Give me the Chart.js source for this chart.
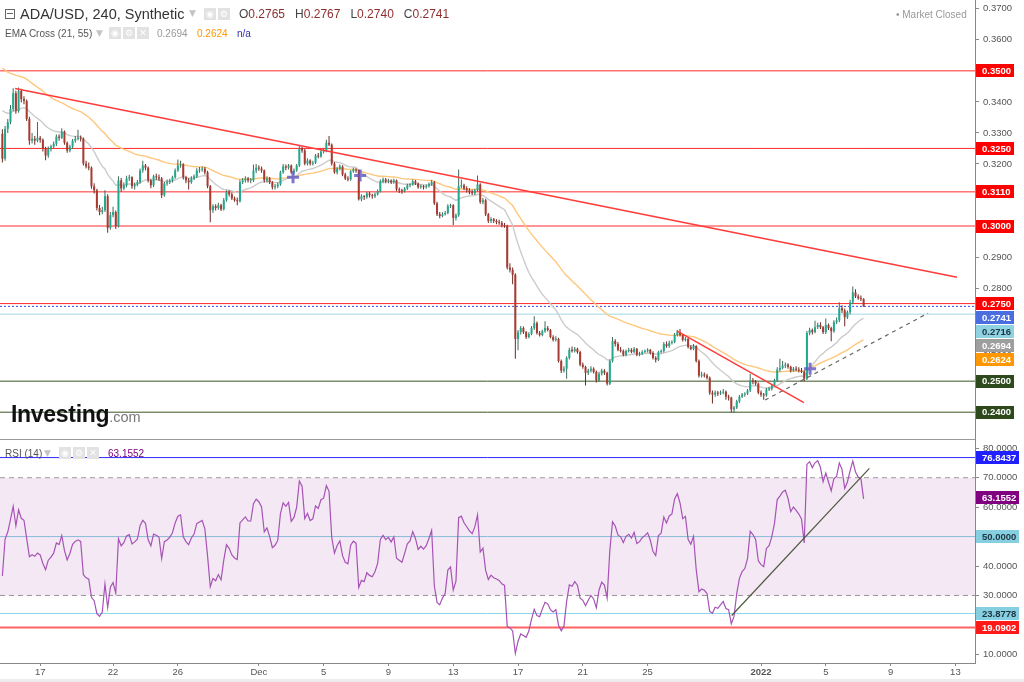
<!DOCTYPE html>
<html>
<head>
<meta charset="utf-8">
<title>ADA/USD, 240, Synthetic</title>
<script src="https://cdn.jsdelivr.net/npm/chart.js@4.4.1/dist/chart.umd.min.js"></script>
<style>
  body { margin: 0; background: #fff; font-family: "Liberation Sans", Arial, sans-serif; }
  #page { position: relative; width: 1024px; height: 682px; overflow: hidden; background: #fff; }
  canvas { position: absolute; left: 0; }
  #priceCanvas { top: 0; }
  #rsiCanvas { top: 440px; }
  .abs { position: absolute; white-space: nowrap; }
  .ico { position: absolute; width: 12px; height: 12px; background: #e2e2e2; color: #fff; font-size: 9px; line-height: 12px; text-align: center; font-family: "DejaVu Sans", sans-serif; }
  .arrow { position: absolute; color: #c4c4c4; font-size: 9px; font-family: "DejaVu Sans", sans-serif; }
  .lbl { color: #444; }
  .num { color: #8e2f2f; margin-right: 10px; }
</style>
</head>
<body>
<div id="page">
  <canvas id="priceCanvas" width="1024" height="439"></canvas>
  <canvas id="rsiCanvas" width="1024" height="242"></canvas>

  <div class="abs" style="left:0;top:439px;width:975px;height:1px;background:#9a9a9a"></div>
  <div class="abs" style="left:975px;top:437px;width:1px;height:6px;background:#888"></div>
  <div class="abs" style="left:0;top:679px;width:1024px;height:3px;background:#ececec"></div>

  <div class="abs" style="left:5px;top:9px;width:8px;height:8px;border:1px solid #666"></div>
  <div class="abs" style="left:7px;top:13px;width:6px;height:1px;background:#666"></div>
  <div class="abs" style="left:20px;top:5px;font-size:14.5px;line-height:18px;color:#333">ADA/USD, 240, Synthetic</div>
  <div class="arrow" style="left:189px;top:8px">&#9660;</div>
  <div class="ico" style="left:204px;top:8px">&#9673;</div>
  <div class="ico" style="left:218px;top:8px">&#9881;</div>
  <div class="abs" id="ohlcText" style="left:239px;top:7px;font-size:12px;line-height:15px"></div>

  <div class="abs" style="left:5px;top:27px;font-size:10px;line-height:13px;color:#555">EMA Cross (21, 55)</div>
  <div class="arrow" style="left:96px;top:28px">&#9660;</div>
  <div class="ico" style="left:109px;top:27px">&#9673;</div>
  <div class="ico" style="left:123px;top:27px">&#9881;</div>
  <div class="ico" style="left:137px;top:27px">&#10005;</div>
  <div class="abs" style="left:157px;top:27px;font-size:10px;line-height:13px;color:#999">0.2694</div>
  <div class="abs" style="left:197px;top:27px;font-size:10px;line-height:13px;color:#ff9800">0.2624</div>
  <div class="abs" style="left:237px;top:27px;font-size:10px;line-height:13px;color:#3030b0">n/a</div>

  <div class="abs" style="left:896px;top:8px;font-size:10px;line-height:13px;color:#999">&#8226; Market Closed</div>

  <div class="abs" style="left:11px;top:401px;line-height:26px"><span style="font-size:23px;font-weight:bold;color:#111;letter-spacing:-0.3px">Investing</span><span style="font-size:14.5px;color:#777">.com</span></div>

  <div class="abs" style="left:5px;top:447px;font-size:10px;line-height:13px;color:#555">RSI (14)</div>
  <div class="arrow" style="left:44px;top:448px">&#9660;</div>
  <div class="ico" style="left:59px;top:447px">&#9673;</div>
  <div class="ico" style="left:73px;top:447px">&#9881;</div>
  <div class="ico" style="left:87px;top:447px">&#10005;</div>
  <div class="abs" style="left:108px;top:447px;font-size:10px;line-height:13px;color:#800080">63.1552</div>
</div>

<script>
const fontFamily = '"Liberation Sans", Arial, sans-serif';

// time axis in days since Nov 1 2021; 240-minute candles
const startDay = 14 + 4 / 24;   // Nov 15 04:00
const stepDay = 4 / 24;
const xMin = 14.02;
const xMax = 74.21;
const dayTicks = [16.5, 21, 25, 30, 34, 38, 42, 46, 50, 54, 61, 65, 69, 73];
const dayLabels = ['17', '22', '26', 'Dec', '5', '9', '13', '17', '21', '25', '2022', '5', '9', '13'];

// [open, high, low, close], one line per day
const ohlc = [
  [.3297,.3312,.3205,.3217],[.3217,.3322,.3210,.3313],[.3313,.3345,.3300,.3335],[.3335,.3390,.3328,.3377],[.3377,.3444,.3370,.3428],[.3428,.3436,.3362,.3371],
  [.3371,.3446,.3365,.3435],[.3435,.3442,.3398,.3409],[.3409,.3418,.3392,.3403],[.3403,.3408,.3338,.3345],[.3345,.3352,.3262,.3275],[.3275,.3300,.3266,.3281],
  [.3281,.3290,.3262,.3275],[.3275,.3335,.3270,.3284],[.3284,.3290,.3268,.3278],[.3278,.3282,.3240,.3249],[.3249,.3255,.3212,.3227],[.3227,.3256,.3220,.3249],
  [.3249,.3262,.3240,.3256],[.3256,.3272,.3250,.3265],[.3265,.3295,.3258,.3288],[.3288,.3296,.3275,.3284],[.3284,.3315,.3280,.3304],[.3304,.3308,.3262,.3268],
  [.3268,.3272,.3236,.3243],[.3243,.3262,.3238,.3256],[.3256,.3280,.3250,.3275],[.3275,.3290,.3268,.3281],[.3281,.3310,.3276,.3284],[.3284,.3292,.3272,.3281],
  [.3281,.3285,.3195,.3201],[.3201,.3210,.3185,.3192],[.3192,.3205,.3180,.3188],[.3188,.3192,.3120,.3128],[.3128,.3138,.3105,.3115],[.3115,.3120,.3050,.3058],
  [.3058,.3068,.3035,.3045],[.3045,.3062,.3038,.3051],[.3051,.3115,.3045,.3096],[.3096,.3102,.2978,.2994],[.2994,.3045,.2988,.3035],[.3035,.3062,.3028,.3045],
  [.3045,.3050,.2990,.3000],[.3000,.3160,.2995,.3147],[.3147,.3155,.3110,.3121],[.3121,.3140,.3115,.3131],[.3131,.3162,.3125,.3153],[.3153,.3165,.3145,.3157],
  [.3157,.3160,.3120,.3128],[.3128,.3140,.3118,.3134],[.3134,.3148,.3128,.3141],[.3141,.3185,.3136,.3179],[.3179,.3210,.3172,.3195],[.3195,.3200,.3180,.3188],
  [.3188,.3192,.3140,.3147],[.3147,.3152,.3122,.3131],[.3131,.3165,.3126,.3160],[.3160,.3168,.3148,.3157],[.3157,.3166,.3145,.3153],[.3153,.3158,.3090,.3099],
  [.3099,.3142,.3094,.3137],[.3137,.3150,.3130,.3141],[.3141,.3152,.3135,.3147],[.3147,.3162,.3140,.3157],[.3157,.3185,.3152,.3179],[.3179,.3214,.3175,.3195],
  [.3195,.3210,.3188,.3198],[.3198,.3202,.3150,.3157],[.3157,.3162,.3138,.3147],[.3147,.3155,.3118,.3141],[.3141,.3160,.3136,.3153],[.3153,.3166,.3148,.3160],
  [.3160,.3186,.3155,.3179],[.3179,.3190,.3172,.3182],[.3182,.3192,.3175,.3185],[.3185,.3190,.3166,.3173],[.3173,.3178,.3122,.3128],[.3128,.3132,.3012,.3051],
  [.3051,.3070,.3042,.3064],[.3064,.3070,.3050,.3058],[.3058,.3075,.3052,.3067],[.3067,.3072,.3048,.3054],[.3054,.3090,.3050,.3083],[.3083,.3115,.3078,.3109],
  [.3109,.3115,.3095,.3102],[.3102,.3108,.3084,.3089],[.3089,.3095,.3078,.3083],[.3083,.3092,.3067,.3080],[.3080,.3150,.3076,.3141],[.3141,.3155,.3135,.3147],
  [.3147,.3160,.3140,.3153],[.3153,.3158,.3140,.3147],[.3147,.3155,.3138,.3147],[.3147,.3198,.3142,.3179],[.3179,.3200,.3170,.3188],[.3188,.3196,.3178,.3185],
  [.3185,.3192,.3172,.3179],[.3179,.3182,.3140,.3147],[.3147,.3160,.3140,.3153],[.3153,.3158,.3135,.3141],[.3141,.3145,.3118,.3125],[.3125,.3135,.3118,.3128],
  [.3128,.3140,.3122,.3134],[.3134,.3178,.3130,.3173],[.3173,.3200,.3168,.3192],[.3192,.3198,.3180,.3188],[.3188,.3200,.3182,.3195],[.3195,.3198,.3168,.3173],
  [.3173,.3185,.3166,.3179],[.3179,.3200,.3175,.3195],[.3195,.3260,.3190,.3249],[.3249,.3256,.3236,.3243],[.3243,.3248,.3196,.3201],[.3201,.3218,.3195,.3211],
  [.3211,.3215,.3195,.3201],[.3201,.3210,.3195,.3204],[.3204,.3232,.3200,.3227],[.3227,.3235,.3218,.3224],[.3224,.3246,.3220,.3240],[.3240,.3250,.3234,.3243],
  [.3243,.3278,.3238,.3268],[.3268,.3290,.3258,.3262],[.3262,.3266,.3195,.3201],[.3201,.3206,.3168,.3173],[.3173,.3190,.3166,.3185],[.3185,.3198,.3180,.3192],
  [.3192,.3196,.3160,.3166],[.3166,.3172,.3148,.3153],[.3153,.3160,.3144,.3150],[.3150,.3180,.3146,.3176],[.3176,.3188,.3172,.3182],[.3182,.3186,.3172,.3179],
  [.3179,.3182,.3082,.3086],[.3086,.3102,.3080,.3096],[.3096,.3100,.3084,.3093],[.3093,.3110,.3088,.3105],[.3105,.3110,.3092,.3099],[.3099,.3104,.3088,.3096],
  [.3096,.3108,.3090,.3102],[.3102,.3118,.3098,.3112],[.3112,.3150,.3108,.3144],[.3144,.3156,.3138,.3150],[.3150,.3155,.3138,.3144],[.3144,.3152,.3138,.3147],
  [.3147,.3150,.3135,.3141],[.3141,.3152,.3136,.3147],[.3147,.3150,.3112,.3118],[.3118,.3124,.3106,.3115],[.3115,.3120,.3104,.3112],[.3112,.3126,.3108,.3121],
  [.3121,.3136,.3116,.3131],[.3131,.3138,.3125,.3134],[.3134,.3150,.3130,.3144],[.3144,.3148,.3132,.3137],[.3137,.3140,.3120,.3125],[.3125,.3134,.3120,.3128],
  [.3128,.3132,.3118,.3125],[.3125,.3134,.3120,.3128],[.3128,.3140,.3124,.3134],[.3134,.3148,.3130,.3141],[.3141,.3145,.3068,.3073],[.3073,.3078,.3032,.3038],
  [.3038,.3045,.3025,.3032],[.3032,.3044,.3028,.3038],[.3038,.3048,.3034,.3042],[.3042,.3070,.3038,.3064],[.3064,.3072,.3058,.3067],[.3067,.3070,.3003,.3026],
  [.3026,.3040,.3018,.3035],[.3035,.3182,.3030,.3128],[.3128,.3150,.3122,.3131],[.3131,.3136,.3115,.3121],[.3121,.3128,.3108,.3115],[.3115,.3122,.3102,.3109],
  [.3109,.3118,.3100,.3105],[.3105,.3120,.3100,.3115],[.3115,.3163,.3110,.3134],[.3134,.3138,.3072,.3077],[.3077,.3090,.3070,.3083],[.3083,.3088,.3032,.3038],
  [.3038,.3042,.3010,.3016],[.3016,.3028,.3010,.3022],[.3022,.3026,.3010,.3016],[.3016,.3022,.3006,.3013],[.3013,.3020,.3004,.3010],[.3010,.3016,.2996,.3003],
  [.3003,.3010,.2994,.3000],[.3000,.3004,.2860,.2866],[.2866,.2880,.2850,.2859],[.2859,.2866,.2812,.2843],[.2843,.2848,.2572,.2636],[.2636,.2665,.2600,.2658],
  [.2658,.2678,.2650,.2671],[.2671,.2676,.2652,.2658],[.2658,.2662,.2636,.2642],[.2642,.2658,.2638,.2652],[.2652,.2678,.2648,.2671],[.2671,.2709,.2665,.2687],
  [.2687,.2692,.2650,.2655],[.2655,.2662,.2644,.2649],[.2649,.2666,.2645,.2661],[.2661,.2693,.2656,.2671],[.2671,.2678,.2660,.2665],[.2665,.2668,.2638,.2642],
  [.2642,.2648,.2628,.2633],[.2633,.2645,.2628,.2636],[.2636,.2640,.2560,.2565],[.2565,.2570,.2526,.2534],[.2534,.2548,.2528,.2540],[.2540,.2580,.2508,.2575],
  [.2575,.2608,.2570,.2601],[.2601,.2612,.2592,.2597],[.2597,.2610,.2592,.2604],[.2604,.2608,.2588,.2594],[.2594,.2598,.2548,.2553],[.2553,.2560,.2540,.2546],
  [.2546,.2550,.2486,.2527],[.2527,.2540,.2520,.2534],[.2534,.2548,.2528,.2540],[.2540,.2545,.2525,.2530],[.2530,.2534,.2496,.2502],[.2502,.2530,.2498,.2524],
  [.2524,.2540,.2518,.2534],[.2534,.2538,.2520,.2527],[.2527,.2530,.2486,.2492],[.2492,.2570,.2488,.2565],[.2565,.2642,.2560,.2629],[.2629,.2635,.2612,.2620],
  [.2620,.2626,.2596,.2601],[.2601,.2610,.2592,.2597],[.2597,.2602,.2580,.2585],[.2585,.2602,.2580,.2597],[.2597,.2608,.2592,.2601],[.2601,.2606,.2590,.2594],
  [.2594,.2610,.2590,.2604],[.2604,.2607,.2580,.2585],[.2585,.2595,.2580,.2588],[.2588,.2600,.2584,.2594],[.2594,.2602,.2590,.2597],[.2597,.2606,.2592,.2601],
  [.2601,.2604,.2586,.2591],[.2591,.2596,.2570,.2575],[.2575,.2580,.2560,.2569],[.2569,.2598,.2565,.2594],[.2594,.2602,.2590,.2597],[.2597,.2626,.2592,.2620],
  [.2620,.2628,.2608,.2613],[.2613,.2630,.2608,.2623],[.2623,.2632,.2618,.2626],[.2626,.2655,.2622,.2649],[.2649,.2665,.2644,.2658],[.2658,.2668,.2644,.2649],
  [.2649,.2652,.2628,.2633],[.2633,.2642,.2628,.2636],[.2636,.2640,.2605,.2610],[.2610,.2616,.2600,.2604],[.2604,.2620,.2600,.2613],[.2613,.2616,.2560,.2565],
  [.2565,.2570,.2512,.2518],[.2518,.2530,.2512,.2521],[.2521,.2528,.2512,.2518],[.2518,.2524,.2505,.2511],[.2511,.2515,.2456,.2463],[.2463,.2470,.2428,.2457],
  [.2457,.2470,.2450,.2463],[.2463,.2468,.2452,.2460],[.2460,.2470,.2455,.2463],[.2463,.2475,.2458,.2466],[.2466,.2470,.2440,.2450],[.2450,.2456,.2438,.2447],
  [.2447,.2450,.2400,.2409],[.2409,.2420,.2398,.2415],[.2415,.2440,.2410,.2435],[.2435,.2455,.2430,.2450],[.2450,.2462,.2446,.2457],[.2457,.2464,.2450,.2460],
  [.2460,.2475,.2455,.2470],[.2470,.2524,.2465,.2502],[.2502,.2510,.2490,.2498],[.2498,.2504,.2486,.2492],[.2492,.2496,.2458,.2463],[.2463,.2470,.2450,.2457],
  [.2457,.2462,.2440,.2454],[.2454,.2478,.2450,.2473],[.2473,.2482,.2468,.2476],[.2476,.2490,.2470,.2486],[.2486,.2508,.2482,.2502],[.2502,.2545,.2498,.2537],
  [.2537,.2572,.2530,.2543],[.2543,.2565,.2538,.2550],[.2550,.2560,.2542,.2553],[.2553,.2558,.2540,.2546],[.2546,.2550,.2528,.2534],[.2534,.2546,.2530,.2540],
  [.2540,.2548,.2532,.2537],[.2537,.2545,.2528,.2534],[.2534,.2542,.2526,.2530],[.2530,.2535,.2500,.2508],[.2508,.2662,.2504,.2655],[.2655,.2672,.2648,.2665],
  [.2665,.2670,.2650,.2658],[.2658,.2695,.2654,.2674],[.2674,.2688,.2668,.2681],[.2681,.2690,.2668,.2674],[.2674,.2678,.2652,.2658],[.2658,.2702,.2652,.2681],
  [.2681,.2686,.2665,.2671],[.2671,.2675,.2629,.2661],[.2661,.2696,.2656,.2690],[.2690,.2705,.2684,.2696],[.2696,.2754,.2690,.2735],[.2735,.2745,.2720,.2728],
  [.2728,.2734,.2677,.2706],[.2706,.2728,.2700,.2722],[.2722,.2762,.2716,.2754],[.2754,.2805,.2748,.2786],[.2786,.2796,.2768,.2773],[.2773,.2780,.2762,.2767],
  [.2767,.2776,.2758,.2765],[.2765,.2767,.2740,.2741]
];

// EMA / RSI state just before the first visible candle
const ema21Start = 0.3387;
const ema55Start = 0.3520;
const rsiStartGain = 0.0011;
const rsiStartLoss = 0.0019;

const priceMin = 0.23136;
const priceMax = 0.37283;
const priceTicks = [0.24, 0.25, 0.26, 0.27, 0.28, 0.29, 0.30, 0.31, 0.32, 0.33, 0.34, 0.35, 0.36, 0.37];
const redLevels = [0.3500, 0.3250, 0.3110, 0.3000, 0.2750];
const supportLevels = [0.2500, 0.2400];
const cyanLevel = 0.2716;
const emaLast = [0.2694, 0.2624];
const mainTrend = [[14.95, 0.3443], [73.1, 0.2835]];
const shortTrend = [[55.8, 0.2662], [63.65, 0.2431]];
const dashTrend = [[61.25, 0.2439], [71.31, 0.2719]];
const emaCrosses = [[32.11, 0.3157], [36.25, 0.3163], [64.03, 0.2540]];

const rsiMin = 7.05;
const rsiMax = 82.14;
const rsiTicks = [10, 20, 30, 40, 50, 60, 70, 80];
const rsiBand = [30, 70];
const rsiMid = 50;
const rsiHigh = 76.8437;
const rsiLowA = 23.8778;
const rsiLowB = 19.0902;
const rsiLast = 63.1552;
const rsiTrend = [[59.19, 23.2], [67.69, 73.2]];

// ---------- derived series ----------
const xs = ohlc.map((_, i) => startDay + i * stepDay);
const closes = ohlc.map(r => r[3]);

function ema(values, period, start) {
  const k = 2 / (period + 1);
  let e = start;
  return values.map(v => (e = e + k * (v - e)));
}

function rsi(values, period, g0, l0) {
  let g = g0, l = l0, prev = null;
  return values.map(v => {
    if (prev !== null) {
      const ch = v - prev;
      g = (g * (period - 1) + Math.max(ch, 0)) / period;
      l = (l * (period - 1) + Math.max(-ch, 0)) / period;
    }
    prev = v;
    return 100 - 100 / (1 + g / l);
  });
}

const ema21 = ema(closes, 21, ema21Start);
const ema55 = ema(closes, 55, ema55Start);
const rsi14 = rsi(closes, 14, rsiStartGain, rsiStartLoss);

const last = ohlc[ohlc.length - 1];
document.getElementById('ohlcText').innerHTML = ['O', 'H', 'L', 'C']
  .map((k, i) => '<span class="lbl">' + k + '</span><span class="num">' + last[i].toFixed(4) + '</span>').join('');

// ---------- helpers ----------
const UP = '#22a88e', DOWN = '#a83a30';
const UP_WICK = '#3d6b57', DOWN_WICK = '#6a2a24';
const isUp = ohlc.map(r => r[3] >= r[0]);

const pts = arr => arr.map(p => ({ x: p[0], y: p[1] }));
const hline = (v, color, extra) => Object.assign({
  type: 'line', data: [{ x: xMin, y: v }, { x: xMax, y: v }],
  borderColor: color, borderWidth: 1, pointRadius: 0, order: 10
}, extra || {});

const axisTags = {
  id: 'axisTags',
  afterDraw(chart, args, opts) {
    const { ctx, chartArea } = chart;
    const y = chart.scales.y;
    let lastY = -100;
    ctx.save();
    ctx.font = 'bold 9.5px ' + fontFamily;
    ctx.textBaseline = 'middle';
    opts.tags.slice().sort((a, b) => b.value - a.value).forEach(t => {
      const py = Math.max(y.getPixelForValue(t.value), lastY + 14);
      lastY = py;
      ctx.fillStyle = t.bg;
      ctx.fillRect(chartArea.right + 1, Math.round(py - 6.5), opts.width, 13);
      ctx.fillStyle = t.fg;
      ctx.fillText(t.text, chartArea.right + 7, py + 0.5);
    });
    ctx.restore();
  }
};

const noSidePad = s => { s.paddingLeft = 0; s.paddingRight = 0; };

const yAxisBase = {
  position: 'right',
  grid: { drawOnChartArea: false, drawTicks: true, tickLength: 4, color: '#888' },
  border: { color: '#888' },
  afterFit: s => { s.width = 49; s.paddingTop = 0; s.paddingBottom = 0; }
};

// ---------- price pane ----------
const priceTags = []
  .concat(redLevels.map(v => ({ value: v, text: v.toFixed(4), bg: '#ff0000', fg: '#fff' })))
  .concat([{ value: last[3], text: last[3].toFixed(4), bg: '#4a6ee0', fg: '#fff' }])
  .concat([{ value: cyanLevel, text: cyanLevel.toFixed(4), bg: '#8fd3e3', fg: '#1d3440' }])
  .concat([{ value: emaLast[0], text: emaLast[0].toFixed(4), bg: '#9e9e9e', fg: '#fff' }])
  .concat([{ value: emaLast[1], text: emaLast[1].toFixed(4), bg: '#ff9800', fg: '#fff' }])
  .concat(supportLevels.map(v => ({ value: v, text: v.toFixed(4), bg: '#2e4a1c', fg: '#fff' })));

new Chart(document.getElementById('priceCanvas'), {
  data: {
    datasets: [
      ...redLevels.map(v => hline(v, '#ff2a2a')),
      ...supportLevels.map(v => hline(v, '#3b5523')),
      hline(cyanLevel, '#9fd8e6'),
      hline(last[3], '#3050e0', { borderDash: [2, 2] }),
      { type: 'line', data: xs.map((x, i) => ({ x, y: ema55[i] })), borderColor: '#ffc77d', borderWidth: 1.4, pointRadius: 0, order: 6 },
      { type: 'line', data: xs.map((x, i) => ({ x, y: ema21[i] })), borderColor: '#cccccc', borderWidth: 1.4, pointRadius: 0, order: 5 },
      {
        type: 'bar', data: xs.map((x, i) => ({ x, y: [ohlc[i][2], ohlc[i][1]] })),
        backgroundColor: isUp.map(u => u ? UP_WICK : DOWN_WICK),
        barThickness: 1, grouped: false, inflateAmount: 0, order: 3
      },
      {
        type: 'bar', data: xs.map((x, i) => ({ x, y: [Math.min(ohlc[i][0], ohlc[i][3]), Math.max(ohlc[i][0], ohlc[i][3])] })),
        backgroundColor: isUp.map(u => u ? UP : DOWN),
        barThickness: 2, minBarLength: 1, grouped: false, inflateAmount: 0, order: 2
      },
      { type: 'line', data: pts(mainTrend), borderColor: '#ff3b3b', borderWidth: 1.5, pointRadius: 0, order: 1 },
      { type: 'line', data: pts(shortTrend), borderColor: '#ff3b3b', borderWidth: 1.5, pointRadius: 0, order: 1 },
      { type: 'line', data: pts(dashTrend), borderColor: '#666', borderWidth: 1.2, borderDash: [4, 4], pointRadius: 0, order: 1 },
      {
        type: 'line', data: pts(emaCrosses), showLine: false, pointStyle: 'cross',
        pointRadius: 6, pointBorderWidth: 3, pointBorderColor: 'rgba(95,85,190,0.8)', order: 0
      }
    ]
  },
  options: {
    responsive: false,
    animation: false,
    events: [],
    layout: { padding: 0, autoPadding: false },
    plugins: { legend: { display: false }, tooltip: { enabled: false }, axisTags: { tags: priceTags, width: 38 } },
    scales: {
      x: { type: 'linear', min: xMin, max: xMax, display: false, offset: false, ticks: { display: false }, afterFit: noSidePad },
      y: Object.assign({}, yAxisBase, {
        min: priceMin, max: priceMax,
        afterBuildTicks: s => { s.ticks = priceTicks.map(v => ({ value: v })); },
        ticks: { callback: v => v.toFixed(4), color: '#555', font: { family: fontFamily, size: 9.5 }, padding: 4 }
      })
    }
  },
  plugins: [axisTags]
});

// ---------- RSI pane ----------
const rsiTags = [
  { value: rsiHigh, text: rsiHigh.toFixed(4), bg: '#1f1fff', fg: '#fff' },
  { value: rsiLast, text: rsiLast.toFixed(4), bg: '#800080', fg: '#fff' },
  { value: rsiMid, text: rsiMid.toFixed(4), bg: '#86cfe0', fg: '#1d3440' },
  { value: rsiLowA, text: rsiLowA.toFixed(4), bg: '#86cfe0', fg: '#1d3440' },
  { value: rsiLowB, text: rsiLowB.toFixed(4), bg: '#ff1a1a', fg: '#fff' }
];

new Chart(document.getElementById('rsiCanvas'), {
  data: {
    datasets: [
      hline(rsiBand[1], '#9a9a9a', { borderDash: [5, 4], fill: '+1', backgroundColor: 'rgba(128,0,128,0.09)' }),
      hline(rsiBand[0], '#9a9a9a', { borderDash: [5, 4] }),
      hline(rsiMid, '#8acde0'),
      hline(rsiHigh, '#2a2aff'),
      hline(rsiLowA, '#8ad6ea'),
      hline(rsiLowB, '#ff6262', { borderWidth: 2 }),
      { type: 'line', data: xs.map((x, i) => ({ x, y: rsi14[i] })), borderColor: '#a653b5', borderWidth: 1.2, pointRadius: 0, order: 3 },
      { type: 'line', data: pts(rsiTrend), borderColor: '#4d5a40', borderWidth: 1.2, pointRadius: 0, order: 1 }
    ]
  },
  options: {
    responsive: false,
    animation: false,
    events: [],
    layout: { padding: { top: 2, left: 0, right: 0, bottom: 0 }, autoPadding: false },
    plugins: { legend: { display: false }, tooltip: { enabled: false }, axisTags: { tags: rsiTags, width: 43 } },
    scales: {
      x: {
        type: 'linear', min: xMin, max: xMax, offset: false,
        afterBuildTicks: s => { s.ticks = dayTicks.map(v => ({ value: v })); },
        afterFit: s => { s.height = 19; noSidePad(s); },
        ticks: {
          autoSkip: false, maxRotation: 0, padding: 1, color: '#555',
          callback: v => dayLabels[dayTicks.indexOf(v)],
          font: ctx => ({ family: fontFamily, size: 9.5, weight: (ctx.tick && dayLabels[dayTicks.indexOf(ctx.tick.value)] === '2022') ? 'bold' : 'normal' })
        },
        grid: { drawOnChartArea: false, drawTicks: true, tickLength: 3, color: '#888' },
        border: { color: '#888' }
      },
      y: Object.assign({}, yAxisBase, {
        min: rsiMin, max: rsiMax,
        afterBuildTicks: s => { s.ticks = rsiTicks.map(v => ({ value: v })); },
        ticks: { callback: v => v.toFixed(4), color: '#555', font: { family: fontFamily, size: 9.5 }, padding: 4 }
      })
    }
  },
  plugins: [axisTags]
});
</script>
</body>
</html>
